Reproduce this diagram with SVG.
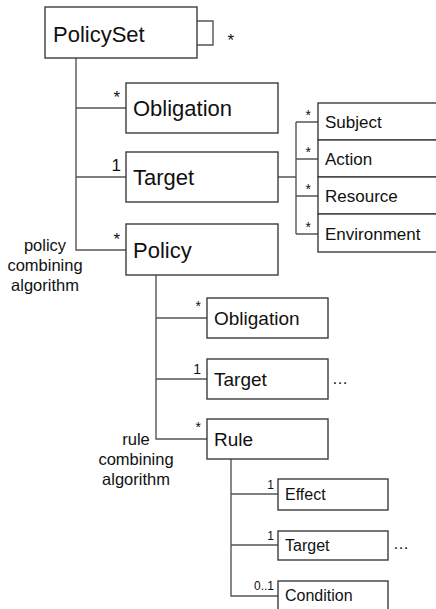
<svg xmlns="http://www.w3.org/2000/svg" width="436" height="609" viewBox="0 0 436 609">
<style>
.box{fill:#fff;stroke:#3c3c3c;stroke-width:1.4}
.ln{fill:none;stroke:#555;stroke-width:1.4}
text{font-family:"Liberation Sans",Arial,sans-serif;fill:#111}
.t1{font-size:22px}
.t2{font-size:19px}
.t3{font-size:17px}
.t4{font-size:16px}
.ann{font-size:16.5px;text-anchor:middle}
.m{font-size:17px;text-anchor:end}
.ms{font-size:14px;text-anchor:end}
.mt{font-size:12px;text-anchor:end}
</style>
<rect width="436" height="609" fill="#fff"/>
<g id="connectors">
<path class="ln" d="M197,21 H213 V45 H197"/>
<path class="ln" d="M76,58 V250 H126 M76,108 H126 M76,177 H126"/>
<path class="ln" d="M278,177 H296 M296,122 V234 M296,122 H318 M296,159 H318 M296,196 H318 M296,234 H318"/>
<path class="ln" d="M156,275 V439 H207 M156,318 H207 M156,379 H207"/>
<path class="ln" d="M231,459 V596 H278 M231,494 H278 M231,545 H278"/>
</g>
<g id="policyset"><rect class="box" x="45" y="7" width="152" height="51"/><text class="t1" x="53" y="42">PolicySet</text><text class="m" x="234" y="46">*</text></g>
<g id="obligation1"><rect class="box" x="126" y="83" width="152" height="50"/><text class="t1" x="133" y="116">Obligation</text><text class="m" x="120" y="103">*</text></g>
<g id="target1"><rect class="box" x="126" y="152" width="152" height="50"/><text class="t1" x="133" y="185">Target</text><text class="m" x="121" y="171">1</text></g>
<g id="subject"><rect class="box" x="318" y="103" width="125" height="37"/><text class="t3" x="325" y="128">Subject</text><text class="ms" x="311" y="120">*</text></g>
<g id="action"><rect class="box" x="318" y="140" width="125" height="37"/><text class="t3" x="325" y="165">Action</text><text class="ms" x="311" y="157">*</text></g>
<g id="resource"><rect class="box" x="318" y="177" width="125" height="37"/><text class="t3" x="325" y="202">Resource</text><text class="ms" x="311" y="194">*</text></g>
<g id="environment"><rect class="box" x="318" y="214" width="125" height="38"/><text class="t3" x="325" y="240">Environment</text><text class="ms" x="311" y="232">*</text></g>
<g id="policy"><rect class="box" x="126" y="224" width="152" height="51"/><text class="t1" x="133" y="258">Policy</text><text class="m" x="120" y="245">*</text>
<text class="ann" x="45" y="251">policy</text><text class="ann" x="45" y="271">combining</text><text class="ann" x="45" y="291">algorithm</text></g>
<g id="obligation2"><rect class="box" x="207" y="298" width="121" height="40"/><text class="t2" x="214" y="325">Obligation</text><text class="ms" x="201" y="311">*</text></g>
<g id="target2"><rect class="box" x="207" y="359" width="121" height="40"/><text class="t2" x="214" y="386">Target</text><text class="ms" x="201" y="374">1</text><text class="t4" x="332" y="384">…</text></g>
<g id="rule"><rect class="box" x="207" y="419" width="121" height="40"/><text class="t2" x="214" y="446">Rule</text><text class="ms" x="201" y="432">*</text>
<text class="ann" x="136" y="445">rule</text><text class="ann" x="136" y="465">combining</text><text class="ann" x="136" y="485">algorithm</text></g>
<g id="effect"><rect class="box" x="278" y="479" width="110" height="31"/><text class="t4" x="285" y="500">Effect</text><text class="mt" x="274" y="489">1</text></g>
<g id="target3"><rect class="box" x="278" y="531" width="110" height="29"/><text class="t4" x="285" y="551">Target</text><text class="mt" x="274" y="540">1</text><text class="t4" x="393" y="549">…</text></g>
<g id="condition"><rect class="box" x="278" y="581" width="110" height="40"/><text class="t4" x="285" y="601">Condition</text><text class="mt" x="274" y="590">0..1</text></g>
</svg>
